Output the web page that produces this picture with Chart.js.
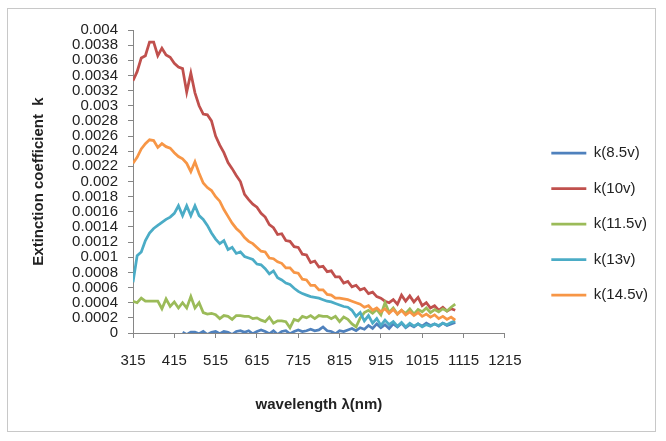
<!DOCTYPE html>
<html>
<head>
<meta charset="utf-8">
<script src="https://cdn.jsdelivr.net/npm/chart.js@4.4.1/dist/chart.umd.min.js"></script>
<style>
html,body{margin:0;padding:0;background:#fff;}
</style>
</head>
<body>
<canvas id="kChart" width="666" height="441"></canvas>
<script>
// wavelength (nm)
const wavelength = [
315,325,335,345,355,365,375,385,395,405,
415,425,435,445,455,465,475,485,495,505,
515,525,535,545,555,565,575,585,595,605,
615,625,635,645,655,665,675,685,695,705,
715,725,735,745,755,765,775,785,795,805,
815,825,835,845,855,865,875,885,895,905,
915,925,935,945,955,965,975,985,995,1005,
1015,1025,1035,1045,1055,1065,1075,1085,1095];

const k85 = [
null,null,null,null,null,null,null,null,null,null,
null,null,0.00001,-0.00002,0.00001,0.00001,-0.00001,0.00002,-0.00002,0.00001,
0.00002,-0.00001,0.00002,0.00001,-0.00002,0.00002,0.00003,0.00001,0.00003,-0.00001,
0.00002,0.00004,0.00002,-0.00001,0.00003,-0.00002,0.00002,0.00003,-0.00001,0.00002,
0.00004,0.00002,0.00003,0.00005,0.00003,0.00004,0.00008,0.00003,0.00002,-0.00001,
0.00003,0.00002,0.00004,0.00006,0.00003,0.00007,0.00005,0.00010,0.00006,0.00012,
0.00007,0.00011,0.00006,0.00012,0.00008,0.00013,0.00007,0.00011,0.00008,0.00012,
0.00009,0.00013,0.00010,0.00012,0.00009,0.00013,0.00010,0.00012,0.00014];

const k10 = [
0.00333,0.00345,0.00363,0.00366,0.00384,0.00384,0.00366,0.00376,0.00367,0.00364,
0.00356,0.00351,0.00349,0.00318,0.00343,0.00317,0.00300,0.00289,0.00288,0.00280,
0.00260,0.00248,0.00238,0.00225,0.00217,0.00208,0.00200,0.00183,0.00176,0.00170,
0.00166,0.00158,0.00153,0.00143,0.00139,0.00130,0.00131,0.00122,0.00121,0.00114,
0.00113,0.00104,0.00103,0.00093,0.00095,0.00087,0.00088,0.00081,0.00082,0.00074,
0.00074,0.00066,0.00068,0.00061,0.00063,0.00057,0.00059,0.00052,0.00054,0.00048,
0.00046,0.00042,0.00040,0.00044,0.00038,0.00050,0.00042,0.00049,0.00041,0.00047,
0.00036,0.00040,0.00033,0.00036,0.00030,0.00034,0.00029,0.00032,0.00030];

const k115 = [
0.00042,0.00040,0.00046,0.00042,0.00042,0.00042,0.00042,0.00032,0.00045,0.00035,
0.00041,0.00033,0.00040,0.00033,0.00048,0.00033,0.00040,0.00027,0.00025,0.00026,
0.00024,0.00019,0.00023,0.00022,0.00018,0.00023,0.00023,0.00022,0.00022,0.00019,
0.00020,0.00017,0.00015,0.00021,0.00013,0.00016,0.00016,0.00015,0.00007,0.00018,
0.00016,0.00022,0.00020,0.00023,0.00019,0.00023,0.00022,0.00022,0.00019,0.00022,
0.00015,0.00021,0.00018,0.00012,0.00008,0.00020,0.00027,0.00030,0.00026,0.00031,
0.00024,0.00040,0.00027,0.00033,0.00025,0.00030,0.00026,0.00032,0.00025,0.00031,
0.00028,0.00033,0.00027,0.00031,0.00028,0.00032,0.00029,0.00034,0.00038];

const k13 = [
0.00067,0.00102,0.00107,0.00122,0.00132,0.00138,0.00142,0.00146,0.00150,0.00153,
0.00158,0.00168,0.00155,0.00168,0.00155,0.00168,0.00155,0.00150,0.00142,0.00132,
0.00124,0.00118,0.00122,0.00110,0.00113,0.00105,0.00107,0.00101,0.00099,0.00097,
0.00091,0.00090,0.00085,0.00078,0.00082,0.00073,0.00070,0.00066,0.00064,0.00059,
0.00055,0.00052,0.00050,0.00048,0.00047,0.00046,0.00044,0.00042,0.00041,0.00039,
0.00037,0.00035,0.00034,0.00030,0.00022,0.00027,0.00016,0.00023,0.00013,0.00019,
0.00010,0.00017,0.00011,0.00015,0.00009,0.00014,0.00008,0.00013,0.00009,0.00012,
0.00008,0.00011,0.00009,0.00012,0.00010,0.00013,0.00011,0.00014,0.00016];

const k145 = [
0.00224,0.00232,0.00243,0.00250,0.00255,0.00254,0.00245,0.00250,0.00246,0.00244,
0.00238,0.00233,0.00230,0.00224,0.00213,0.00226,0.00211,0.00198,0.00192,0.00188,
0.00180,0.00174,0.00163,0.00154,0.00145,0.00138,0.00133,0.00126,0.00121,0.00118,
0.00113,0.00108,0.00107,0.00099,0.00098,0.00094,0.00092,0.00086,0.00086,0.00080,
0.00079,0.00071,0.00070,0.00063,0.00063,0.00057,0.00057,0.00051,0.00050,0.00046,
0.00046,0.00045,0.00044,0.00042,0.00040,0.00038,0.00034,0.00036,0.00030,0.00033,
0.00028,0.00032,0.00026,0.00031,0.00025,0.00030,0.00024,0.00028,0.00023,0.00027,
0.00022,0.00025,0.00021,0.00024,0.00019,0.00022,0.00018,0.00021,0.00017];

const seriesNames = ["k(8.5v)","k(10v)","k(11.5v)","k(13v)","k(14.5v)"];
const seriesValues = [k85,k10,k115,k13,k145];
const seriesColors = ["#4F81BD","#C0504D","#9BBB59","#4BACC6","#F79646"];

const FONT = "'Liberation Sans', Arial, sans-serif";
const TEXT = "#222";
const AXIS = "#868686";

function toPoints(vals){
  return wavelength.map((w,i) => ({x:w, y:vals[i]}));
}

const datasets = seriesNames.map((name,i) => ({
  label: name,
  data: toPoints(seriesValues[i]),
  borderColor: seriesColors[i],
  backgroundColor: seriesColors[i],
  borderWidth: 2.75,
  pointRadius: 0,
  tension: 0,
  spanGaps: false,
  order: seriesNames.length - i   // later series drawn on top, like Excel
}));

// outer frame of the chart
const frame = {
  id: "frame",
  beforeDraw(chart){
    const c = chart.ctx;
    c.save();
    c.fillStyle = "#fff";
    c.fillRect(0,0,chart.width,chart.height);
    c.strokeStyle = "#c8c8c8";
    c.lineWidth = 1;
    c.strokeRect(7.5,8.5,648,423);
    c.restore();
  }
};

// nudge legend to where Excel put it
const legendShift = {
  id: "legendShift",
  afterLayout(chart){
    const lg = chart.legend;
    lg.left += 26; lg.right += 26;
    lg.top += 2; lg.bottom += 2;
  }
};

new Chart(document.getElementById("kChart"), {
  type: "line",
  data: { datasets: datasets },
  plugins: [frame, legendShift],
  options: {
    responsive: false,
    animation: false,
    devicePixelRatio: 1,
    layout: { padding: { left: 22, top: 30, right: 34, bottom: 27 } },
    plugins: {
      tooltip: { enabled: false },
      legend: {
        position: "right",
        reverse: true,
        labels: {
          usePointStyle: true,
          pointStyle: "line",
          pointStyleWidth: 35,
          padding: 20.5,
          color: TEXT,
          font: { family: FONT, size: 15 }
        }
      }
    },
    scales: {
      x: {
        type: "linear",
        min: 315,
        max: 1215,
        ticks: {
          stepSize: 100,
          autoSkip: false,
          color: TEXT,
          padding: 14,
          maxRotation: 0,
          font: { family: FONT, size: 15 },
          callback: v => String(v)
        },
        grid: { drawOnChartArea: false, drawTicks: true, tickLength: 5, color: AXIS },
        border: { display: true, color: AXIS },
        title: {
          display: true,
          text: "wavelength λ(nm)",
          color: TEXT,
          padding: { top: 12, bottom: 0 },
          font: { family: FONT, size: 15, weight: "bold" }
        }
      },
      y: {
        min: 0,
        max: 0.004,
        afterFit(scale){ scale.width = 111; },
        ticks: {
          stepSize: 0.0002,
          autoSkip: false,
          color: TEXT,
          padding: 10,
          font: { family: FONT, size: 15 },
          callback: v => String(+v.toFixed(4))
        },
        grid: { drawOnChartArea: false, drawTicks: true, tickLength: 5, color: AXIS },
        border: { display: true, color: AXIS },
        title: {
          display: true,
          text: "Extinction coefficient  k",
          color: TEXT,
          padding: { top: 8, bottom: 0 },
          font: { family: FONT, size: 15, weight: "bold" }
        }
      }
    }
  }
});
</script>
</body>
</html>
